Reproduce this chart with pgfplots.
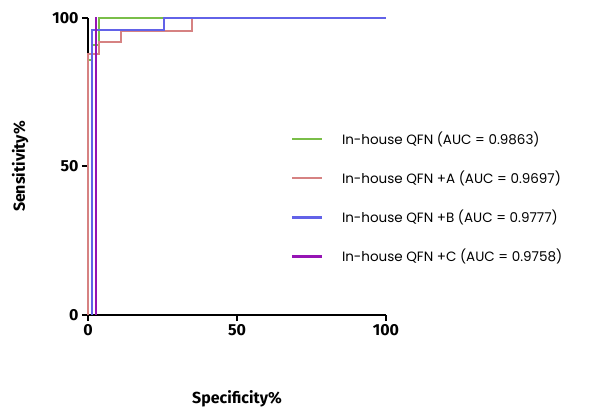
\documentclass[border=0pt]{standalone}
\usepackage{pgfplots}
\pgfplotsset{compat=1.18}
\usepackage{fontspec}
\setmainfont{Fira Sans}
\newfontfamily\legfont{Poppins}
\definecolor{rocgreen}{RGB}{122,190,72}
\definecolor{rocpink}{RGB}{214,130,130}
\definecolor{rocblue}{RGB}{98,98,232}
\definecolor{rocpurple}{RGB}{150,20,180}
\begin{document}
\begin{tikzpicture}
\useasboundingbox (-88bp,-97bp) rectangle (507bp,315bp);
\begin{axis}[
  at={(0,0)}, anchor=south west,
  scale only axis, width=298bp, height=297bp,
  xmin=0, xmax=100, ymin=0, ymax=100,
  axis x line*=bottom, axis y line*=left,
  axis line style={line width=2.6bp, -},
  xtick={0,50,100}, ytick={0,50,100},
  tick style={line width=2bp, black},
  tick align=outside, major tick length=6bp,
  ticklabel style={font=\fontsize{16bp}{18bp}\selectfont\bfseries},
  /pgf/number format/assume math mode=true,
  xlabel={Specificity\%}, ylabel={Sensitivity\%},
  label style={font=\fontsize{16bp}{18bp}\selectfont\bfseries},
  xlabel style={at={(axis description cs:0.5,0)}, anchor=north, yshift=-72bp},
  ylabel style={at={(axis description cs:0,0.5)}, anchor=south, yshift=56bp},
  clip=false,
  legend cell align=left,
  legend style={draw=none, fill=none, at={(rel axis cs:0.67,0.63)}, anchor=north west,
    font=\fontsize{13.5bp}{15bp}\selectfont\legfont, row sep=21bp,
    /tikz/every odd column/.append style={column sep=17bp}},
  legend image code/.code={\draw[#1, line width=2.4bp] (0cm,0cm) -- (1.05cm,0cm);},
]
\addplot[rocgreen, line width=2bp] coordinates {(0,0) (0,86) (1.3,86) (1.3,91) (3.7,91) (3.7,100) (100,100)};
\addplot[rocpink, line width=2bp] coordinates {(0,0) (0,88) (3.7,88) (3.7,92) (11,92) (11,95.5) (35,95.5) (35,100) (100,100)};
\addplot[rocblue, line width=2bp] coordinates {(1.2,0) (1.2,96) (25.5,96) (25.5,100) (100,100)};
\addplot[rocpurple, line width=2bp] coordinates {(2.6,0) (2.6,100) (3,100)};
\legend{In-house QFN (AUC = 0.9863), In-house QFN +A (AUC = 0.9697), In-house QFN +B (AUC = 0.9777), In-house QFN +C (AUC = 0.9758)}
\end{axis}
\end{tikzpicture}
\end{document}
